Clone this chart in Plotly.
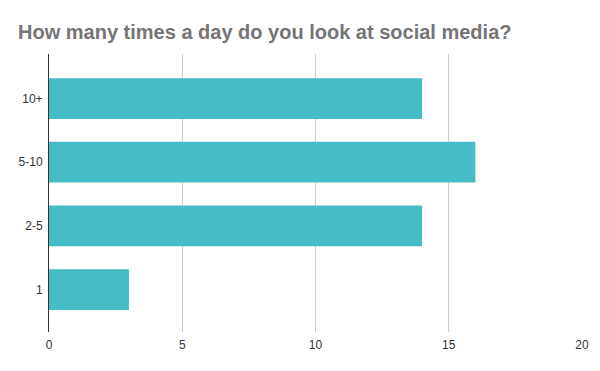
import plotly.graph_objects as go

categories = ["1", "2-5", "5-10", "10+"]
values = [3, 14, 16, 14]
x_ticks = [0, 5, 10, 15, 20]

fig = go.Figure(go.Bar(
    x=values, y=categories, orientation="h",
    marker=dict(color="#46BDC6", line=dict(width=0)),
    width=0.64, hoverinfo="x+y",
))

fig.update_layout(
    width=600, height=371,
    margin=dict(l=49, r=18, t=54, b=39, autoexpand=False),
    paper_bgcolor="white", plot_bgcolor="white",
    title=dict(text="<b>How many times a day do you look at social media?</b>",
               xref="container", x=18/600, xanchor="left", y=1 - 32/371, yanchor="middle",
               pad=dict(l=0, r=0, t=0, b=0),
               font=dict(family="Liberation Sans, Arial, sans-serif", size=20, color="#757575")),
    font=dict(family="Liberation Sans, Arial, sans-serif", size=12, color="#333333"),
    showlegend=False,
    bargap=0.36,
)
fig.update_xaxes(range=[0, 20], tickvals=x_ticks, showgrid=True, gridcolor="#CCCCCC", gridwidth=1,
                 zeroline=False, showline=False, ticks="", ticklen=0, tickfont=dict(color="#333333"),
                 ticklabelstandoff=4, automargin=False, fixedrange=True)
fig.update_yaxes(type="category", categoryorder="array", categoryarray=categories,
                 range=[-0.667, 3.7], showline=True, linecolor="#333333", linewidth=1,
                 showgrid=False, ticks="", tickfont=dict(color="#333333"),
                 ticklabelstandoff=3, automargin=False, fixedrange=True)

fig.write_html("out.html", config={"displayModeBar": False},
               post_script="document.body.style.margin='0';document.body.style.padding='0';")
